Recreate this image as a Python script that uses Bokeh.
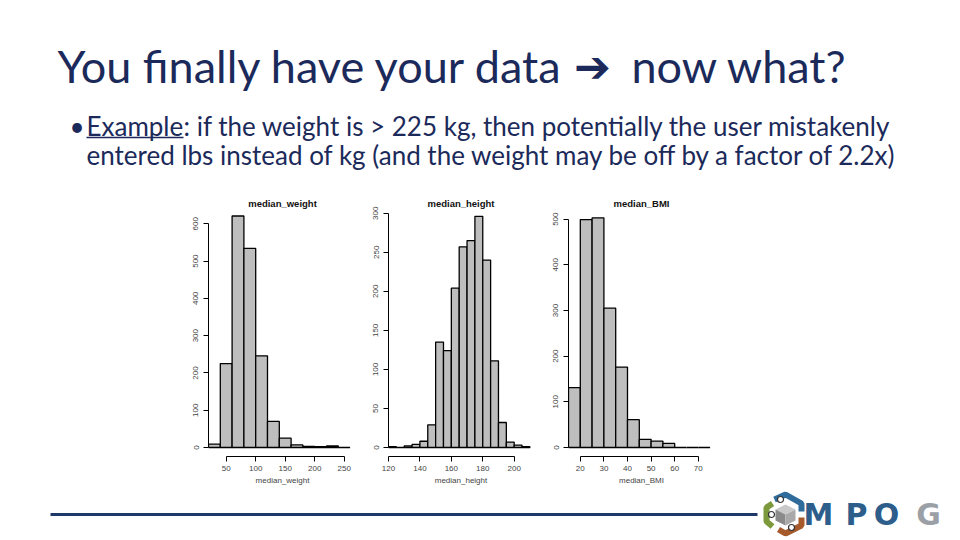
from bokeh.plotting import figure
from bokeh.models import Range1d, FixedTicker, Spacer
from bokeh.layouts import column, row
from bokeh.core.properties import value
from bokeh.embed import file_html
from bokeh.resources import INLINE

# ---------------- data ----------------
weight_left = [20, 40, 60, 80, 100, 120, 140, 160, 180, 200, 220, 240]
weight_counts = [9, 225, 621, 534, 246, 70, 25, 7, 3, 2, 4, 0]
weight_ticks = [50, 100, 150, 200, 250]
weight_yticks = [0, 100, 200, 300, 400, 500, 600]

height_left = [120, 125, 130, 135, 140, 145, 150, 155, 160, 165, 170, 175, 180, 185, 190, 195, 200, 205]
height_counts = [1, 0, 2, 4, 8, 29, 135, 124, 204, 257, 265, 296, 240, 111, 32, 7, 3, 1]
height_ticks = [120, 140, 160, 180, 200]
height_yticks = [0, 50, 100, 150, 200, 250, 300]

bmi_left = [15, 20, 25, 30, 35, 40, 45, 50, 55, 60, 65, 70]
bmi_counts = [131, 499, 503, 305, 176, 61, 18, 14, 9, 0, 0, 0]
bmi_ticks = [20, 30, 40, 50, 60, 70]
bmi_yticks = [0, 100, 200, 300, 400, 500]

TITLE = "You finally have your data"
TITLE2 = "now what?"
ARROW = "\u2794"
BULLET_LBL = "Example"
BULLET_1 = ": if the weight is > 225 kg, then potentially the user mistakenly"
BULLET_2 = "entered lbs instead of kg (and the weight may be off by a factor of 2.2x)"

NAVY = "#1b2a5a"
FONT = "Lato"
RFONT = "Liberation Sans"


def hist(title, left, counts, binw, xr, yr, xticks, yticks, xlabel, fw, fh, bl, br):
    p = figure(frame_width=fw, frame_height=fh, x_range=Range1d(*xr), y_range=Range1d(*yr),
               output_backend="svg", toolbar_location=None,
               min_border_left=bl, min_border_right=br, min_border_top=20, min_border_bottom=300 - 20 - fh,
               title=title)
    right = [l + binw for l in left]
    p.quad(left=left, right=right, bottom=0, top=counts, fill_color="#bebebe",
           line_color="black", line_width=1.3)
    p.outline_line_color = None
    p.grid.visible = False
    p.background_fill_color = "white"
    p.border_fill_color = "white"
    p.title.text_font = RFONT
    p.title.text_font_size = "9.5px"
    p.title.text_font_style = "bold"
    p.title.align = "center"
    p.title.standoff = 4
    p.title.text_color = "#111111"
    for ax in (p.xaxis[0], p.yaxis[0]):
        ax.major_tick_out = 5
        ax.major_tick_in = 0
        ax.minor_tick_line_color = None
        ax.axis_line_color = "black"
        ax.major_tick_line_color = "black"
        ax.major_label_text_font = RFONT
        ax.major_label_text_font_size = "8px"
        ax.major_label_text_color = "#444444"
        ax.axis_line_width = 1
    p.xaxis.ticker = FixedTicker(ticks=xticks)
    p.xaxis.bounds = (xticks[0], xticks[-1])
    p.xaxis.major_label_standoff = 4
    p.xaxis.axis_label = xlabel
    p.xaxis.axis_label_text_font = RFONT
    p.xaxis.axis_label_text_font_size = "8px"
    p.xaxis.axis_label_text_font_style = "normal"
    p.xaxis.axis_label_text_color = "#444444"
    p.xaxis.axis_label_standoff = 2
    p.yaxis.ticker = FixedTicker(ticks=yticks)
    p.yaxis.bounds = (yticks[0], yticks[-1])
    p.yaxis.major_label_orientation = "vertical"
    p.yaxis.major_label_standoff = 5
    return p


# px per unit derived from the reference layout
fh = 246
h1 = hist("median_weight", weight_left, weight_counts, 20, (20, 20 + 148 / 0.59),
          (-9 / 0.3728, -9 / 0.3728 + fh / 0.3728), weight_ticks, weight_yticks,
          "median_weight", 148, fh, 33, 4)
h2 = hist("median_height", height_left, height_counts, 5, (120, 120 + 145 / 1.571),
          (-9 / 0.781, -9 / 0.781 + fh / 0.781), height_ticks, height_yticks,
          "median_height", 145, fh, 28, 7)
h3 = hist("median_BMI", bmi_left, bmi_counts, 5, (15, 15 + 146 / 2.36),
          (-9 / 0.4567, -9 / 0.4567 + fh / 0.4567), bmi_ticks, bmi_yticks,
          "median_BMI", 146, fh, 28, 6)

# ---------------- slide header ----------------
top = figure(width=960, height=190, x_range=Range1d(0, 960), y_range=Range1d(190, 0),
             output_backend="svg", toolbar_location=None, min_border=0,
             x_axis_location=None, y_axis_location=None, outline_line_color=None)
top.grid.visible = False
top.text(x=[57], y=[65], text=[TITLE], text_font=value(FONT), text_font_size="45px",
         text_color=NAVY, text_baseline="middle")
top.text(x=[592], y=[66], text=[ARROW], text_font=value("DejaVu Sans"), text_font_size="44px",
         text_font_style="bold", text_color=NAVY, text_baseline="middle", text_align="center")
top.text(x=[631], y=[65], text=[TITLE2], text_font=value(FONT), text_font_size="45px",
         text_color=NAVY, text_baseline="middle")
top.text(x=[69], y=[125], text=["\u2022"], text_font=value(FONT), text_font_size="26px",
         text_color=NAVY, text_baseline="middle")
top.text(x=[86], y=[125], text=[BULLET_LBL], text_font=value(FONT), text_font_size="26px",
         text_color=NAVY, text_baseline="middle")
top.segment(x0=[86], y0=[137], x1=[183], y1=[137], line_color=NAVY, line_width=1.5)
top.text(x=[183], y=[125], text=[BULLET_1], text_font=value(FONT), text_font_size="26px",
         text_color=NAVY, text_baseline="middle")
top.text(x=[86], y=[154], text=[BULLET_2], text_font=value(FONT), text_font_size="26px",
         text_color=NAVY, text_baseline="middle")

# ---------------- slide footer ----------------
bot = figure(width=960, height=50, x_range=Range1d(0, 960), y_range=Range1d(540, 490),
             output_backend="svg", toolbar_location=None, min_border=0,
             x_axis_location=None, y_axis_location=None, outline_line_color=None)
bot.grid.visible = False
bot.line(x=[50, 757], y=[514, 514], line_width=3, line_color="#1f3868")
# logo icon (approximation)
bot.line(x=[774, 785, 801, 801], y=[499, 494, 503, 511], line_width=6, line_color="#2f6c9c")
bot.line(x=[772, 766, 766, 772], y=[503, 507, 521, 526], line_width=6, line_color="#7c9a3c")
bot.line(x=[801, 801, 785, 778], y=[517, 525, 533, 529], line_width=6, line_color="#a65a2c")
bot.patch(x=[785, 795, 785, 775], y=[504, 509, 514, 509], fill_color="#c9c9c9", line_color=None)
bot.patch(x=[775, 785, 785, 775], y=[509, 514, 525, 520], fill_color="#8a8a8a", line_color=None)
bot.patch(x=[785, 795, 795, 785], y=[514, 509, 520, 525], fill_color="#a9a9a9", line_color=None)
bot.scatter(x=[780, 771, 791], y=[499, 514, 527], size=6, fill_color="white",
            line_color="#333333", line_width=1.2)
bot.text(x=[818, 856, 886], y=[514, 514, 514], text=["M", "P", "O"], text_font=value("DejaVu Sans"),
         text_font_size="30px", text_font_style="bold", text_color="#2d5d8b",
         text_align="center", text_baseline="middle")
bot.text(x=[928], y=[514], text=["G"], text_font=value("DejaVu Sans"), text_font_size="30px",
         text_font_style="bold", text_color="#9ba0a6", text_align="center", text_baseline="middle")

layout = column(top, row(Spacer(width=175, height=300), h1, h2, h3, Spacer(width=240, height=300)), bot)

open("out.html", "w").write(file_html(layout, INLINE))
